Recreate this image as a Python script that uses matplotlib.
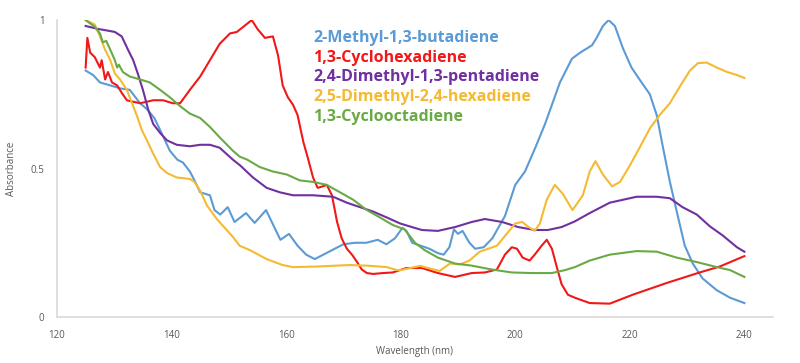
import matplotlib
matplotlib.use("Agg")
import matplotlib.pyplot as plt

plt.rcParams["font.family"] = ["Open Sans", "DejaVu Sans"]

# wavelengths (nm) and absorbance, one pair per compound
blue_x = [125, 126.3, 127.5, 129.3, 131, 132.7, 134.5, 135.7, 137, 138, 139.7, 141, 142,
          143.2, 144, 145, 146.7, 147.5, 148.5, 149.8, 151, 153, 154.5, 156.5, 158, 159,
          160.5, 162, 163.5, 165, 166.5, 168, 170, 172, 174, 176, 177.5, 179, 180.3, 181,
          182, 183.5, 185, 186.5, 187.5, 188.5, 189.3, 190, 190.8, 192, 193, 194.5, 196,
          198.2, 200, 201.7, 203.5, 205.2, 207.8, 209.9, 211.3, 213.4, 214.2, 215.3, 216.3,
          217.4, 218.8, 220.3, 221.7, 223.5, 224.7, 225.8, 227, 228.2, 229.6, 231, 232.7,
          235.2, 237.5, 240]
blue_y = [0.83, 0.815, 0.79, 0.78, 0.77, 0.765, 0.72, 0.70, 0.67, 0.63, 0.56, 0.53, 0.52,
          0.49, 0.46, 0.42, 0.41, 0.36, 0.345, 0.37, 0.32, 0.35, 0.317, 0.36, 0.30, 0.26,
          0.28, 0.24, 0.21, 0.195, 0.21, 0.225, 0.245, 0.25, 0.25, 0.26, 0.245, 0.265, 0.30,
          0.29, 0.25, 0.24, 0.23, 0.215, 0.21, 0.235, 0.295, 0.28, 0.29, 0.25, 0.23, 0.235,
          0.265, 0.34, 0.445, 0.49, 0.57, 0.65, 0.79, 0.87, 0.89, 0.915, 0.94, 0.98, 1.0,
          0.98, 0.905, 0.84, 0.80, 0.75, 0.68, 0.57, 0.455, 0.355, 0.24, 0.18, 0.13, 0.09,
          0.065, 0.047]

red_x = [125, 125.3, 125.8, 126.6, 127.5, 127.8, 128.4, 128.9, 129.6, 130.5, 131.3, 132.2,
         133.3, 134.5, 135.7, 136.8, 138.5, 140.2, 141.5, 143.2, 145, 146.7, 148.4, 150.2,
         151.4, 152.5, 154, 155, 156.3, 157.7, 158.6, 159.4, 160.3, 161.2, 162, 163, 163.8,
         164.7, 165.5, 166.4, 167.1, 168, 168.9, 169.7, 170.6, 171.5, 172.4, 173.2, 174.1,
         175.2, 176.9, 178.6, 181, 183.7, 186.5, 189.5, 192.4, 194.7, 196.8, 198.2, 199.4,
         200.3, 201.3, 202.5, 203.4, 204.6, 205.5, 206.4, 207.3, 208.1, 209.2, 210.4, 213,
         216.5, 220.5, 226.5, 232.2, 235.7, 240]
red_y = [0.84, 0.94, 0.89, 0.875, 0.84, 0.865, 0.80, 0.825, 0.79, 0.78, 0.755, 0.73, 0.725,
         0.72, 0.725, 0.73, 0.73, 0.72, 0.72, 0.765, 0.81, 0.865, 0.92, 0.955, 0.96, 0.977,
         1.0, 0.97, 0.94, 0.945, 0.88, 0.78, 0.74, 0.715, 0.68, 0.59, 0.535, 0.47, 0.435,
         0.44, 0.445, 0.41, 0.32, 0.265, 0.23, 0.21, 0.185, 0.16, 0.148, 0.145, 0.148, 0.15,
         0.165, 0.165, 0.148, 0.135, 0.148, 0.15, 0.16, 0.21, 0.235, 0.23, 0.20, 0.19, 0.21,
         0.24, 0.26, 0.23, 0.165, 0.11, 0.075, 0.065, 0.047, 0.045, 0.075, 0.115, 0.15,
         0.17, 0.205]

purple_x = [125, 127.2, 128.7, 130.1, 131.3, 132.4, 133.3, 134.1, 135, 135.9, 136.8, 138,
            139.2, 140.9, 143.2, 145, 146.7, 148.4, 150.7, 152, 154.2, 156.6, 158.9, 161.2,
            164.7, 168.2, 170.6, 172.9, 175.2, 177.6, 179.9, 181.6, 183.7, 186.5, 189.5,
            192.4, 194.7, 197.7, 200.5, 203.4, 205.7, 208.1, 210.4, 213, 216.5, 221.2, 224.7,
            227, 229.2, 231.7, 234, 236.2, 238.7, 240]
purple_y = [0.98, 0.97, 0.965, 0.96, 0.945, 0.90, 0.865, 0.82, 0.765, 0.70, 0.65, 0.62,
            0.595, 0.58, 0.575, 0.58, 0.58, 0.57, 0.53, 0.51, 0.47, 0.435, 0.42, 0.41, 0.41,
            0.405, 0.385, 0.37, 0.355, 0.335, 0.315, 0.305, 0.293, 0.29, 0.303, 0.32, 0.33,
            0.32, 0.303, 0.293, 0.293, 0.303, 0.322, 0.35, 0.385, 0.405, 0.405, 0.40, 0.37,
            0.345, 0.305, 0.275, 0.235, 0.22]

yellow_x = [125, 126.6, 127.5, 128.4, 129.3, 130.1, 131, 132.2, 133.1, 134, 134.8, 135.7,
            136.8, 138, 139.2, 140.9, 143.2, 144, 145, 146.2, 147.9, 150.7, 151.9, 153.7,
            156.6, 159.4, 161.2, 165.4, 171.1, 174.1, 177.6, 179.3, 180, 183.4, 186.8, 188.6,
            190.3, 192, 193.8, 196.8, 198.5, 200, 201.2, 202.2, 203.4, 204.3, 205.5, 206.9,
            208.3, 210, 211.8, 213, 214, 215.3, 216.9, 218.3, 220, 221.7, 223.5, 225.2, 227,
            228.7, 230.5, 231.9, 233.4, 235.2, 237, 238.7, 240]
yellow_y = [1.0, 0.985, 0.945, 0.90, 0.865, 0.82, 0.80, 0.765, 0.72, 0.675, 0.63, 0.595,
            0.55, 0.505, 0.485, 0.47, 0.465, 0.455, 0.425, 0.375, 0.33, 0.27, 0.24, 0.225,
            0.195, 0.175, 0.168, 0.17, 0.175, 0.173, 0.168, 0.158, 0.158, 0.172, 0.155, 0.18,
            0.177, 0.19, 0.22, 0.24, 0.28, 0.315, 0.32, 0.305, 0.29, 0.315, 0.395, 0.445,
            0.415, 0.36, 0.41, 0.49, 0.525, 0.48, 0.44, 0.455, 0.51, 0.57, 0.635, 0.68, 0.72,
            0.775, 0.83, 0.855, 0.857, 0.84, 0.825, 0.815, 0.805]

green_x = [125, 125.7, 126.6, 127.5, 128, 128.6, 129.3, 130.1, 130.5, 130.8, 131.5, 132.7,
           134.5, 136.2, 138, 139.7, 141.5, 143.2, 145, 146.7, 148.4, 150.7, 151.9, 153.2,
           155.4, 157.7, 160.1, 162.4, 164.7, 167.1, 169.4, 171.7, 174.1, 176.4, 178.6,
           180.7, 182.5, 184.2, 186.5, 189.5, 192.4, 195.9, 199.4, 202.9, 206.4, 208.7,
           210.4, 213, 216.5, 221.2, 224.7, 228.2, 231.7, 235.2, 237.5, 240]
green_y = [1.0, 0.99, 0.977, 0.955, 0.925, 0.93, 0.90, 0.865, 0.84, 0.85, 0.825, 0.81, 0.80,
           0.79, 0.765, 0.74, 0.71, 0.685, 0.67, 0.64, 0.605, 0.56, 0.54, 0.53, 0.505, 0.49,
           0.48, 0.46, 0.455, 0.445, 0.42, 0.395, 0.36, 0.335, 0.31, 0.295, 0.25, 0.225, 0.20,
           0.18, 0.173, 0.16, 0.15, 0.148, 0.148, 0.158, 0.168, 0.19, 0.21, 0.222, 0.22, 0.20,
           0.185, 0.168, 0.158, 0.135]

names = ["2-Methyl-1,3-butadiene", "1,3-Cyclohexadiene", "2,4-Dimethyl-1,3-pentadiene",
         "2,5-Dimethyl-2,4-hexadiene", "1,3-Cyclooctadiene"]
colors = ["#5B9BD5", "#F01818", "#7030A0", "#F5BA32", "#6AAA46"]

x_ticks = [120, 140, 160, 180, 200, 220, 240]
y_ticks = [0, 0.5, 1]
y_tick_labels = ["0", "0.5", "1"]

fig = plt.figure(figsize=(8, 3.63), dpi=100)
ax = fig.add_axes([0.07125, 0.1267, 0.895, 0.818])

series = [(blue_x, blue_y), (red_x, red_y), (purple_x, purple_y),
          (yellow_x, yellow_y), (green_x, green_y)]
for (xs, ys), c in zip(series, colors):
    ax.plot(xs, ys, color=c, lw=1.5)

ax.set_xlim(120, 245)
ax.set_ylim(0, 1)
ax.set_xticks(x_ticks)
ax.set_yticks(y_ticks)
ax.set_yticklabels(y_tick_labels)
ax.tick_params(length=0, labelsize=7, labelcolor="#595959", pad=9)
for s in ["top", "right"]:
    ax.spines[s].set_visible(False)
for s in ["left", "bottom"]:
    ax.spines[s].set_color("#d9d9d9")
    ax.spines[s].set_linewidth(1.2)

ax.set_xlabel("Wavelength (nm)", fontsize=7, color="#595959", labelpad=4)
ax.set_ylabel("Absorbance", fontsize=7, color="#595959", labelpad=10)

# coloured labels in place of a legend box
for i, (n, c) in enumerate(zip(names, colors)):
    fig.text(313 / 800, 1 - (38 + i * 19.7) / 363, n, color=c, fontsize=11.5,
             fontweight="bold", va="center", ha="left")

fig.savefig("out.png", dpi=100)
